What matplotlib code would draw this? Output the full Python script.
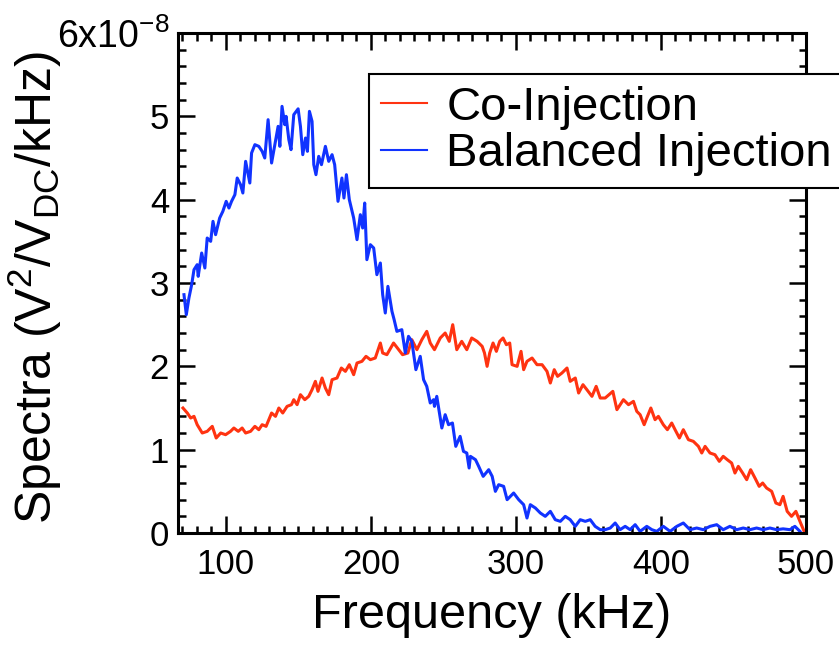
import numpy as np
import matplotlib.pyplot as plt
from matplotlib.ticker import MultipleLocator

# fonts: helvetica-like text, regular mathtext for sub/superscripts
plt.rcParams["font.family"] = ["Liberation Sans", "DejaVu Sans"]
plt.rcParams["mathtext.fontset"] = "custom"
plt.rcParams["mathtext.rm"] = "Liberation Sans"
plt.rcParams["mathtext.default"] = "regular"

# spectra in units of 1e-8 V^2/V_DC/kHz
co_freq = [70.4, 73.4, 75.7, 78.0, 80.2, 83.7, 87.1, 90.6, 93.3, 96.4,
           99.8, 103.2, 105.5, 108.5, 111.2, 113.6, 117.0, 120.0, 122.7, 125.0,
           127.7, 131.5, 134.2, 136.5, 139.2, 142.2, 145.2, 146.8, 149.1, 151.4,
           154.4, 157.1, 159.4, 161.7, 163.5, 166.3, 168.6, 170.9, 173.2, 176.6,
           179.6, 182.4, 185.1, 188.1, 190.4, 193.8, 196.6, 199.6, 203.0, 206.5,
           208.1, 211.0, 215.6, 219.1, 221.8, 225.5, 228.2, 231.7, 235.1, 238.5,
           240.9, 243.8, 247.8, 251.2, 254.0, 256.4, 259.2, 262.6, 266.1, 269.5,
           273.2, 276.7, 278.3, 280.1, 281.9, 284.2, 286.5, 288.8, 291.1, 293.4,
           295.7, 297.3, 300.8, 303.5, 305.3, 307.6, 311.1, 314.5, 318.0, 321.4,
           323.7, 326.4, 328.7, 331.7, 335.2, 337.4, 340.9, 343.2, 346.2, 348.9,
           352.4, 355.3, 358.1, 361.5, 366.8, 369.6, 374.1, 377.6, 381.0, 383.3,
           385.6, 388.4, 390.2, 393.0, 395.9, 398.2, 401.6, 404.4, 407.4, 409.7,
           412.7, 415.4, 418.9, 422.3, 425.8, 428.1, 430.4, 433.8, 437.2, 440.2,
           442.9, 445.7, 448.7, 451.0, 453.3, 456.3, 459.1, 461.8, 464.8, 467.7,
           470.1, 472.8, 476.3, 479.2, 482.0, 484.2, 487.0, 490.0, 493.0, 495.8,
           498.7]
co_spec = [1.50, 1.44, 1.38, 1.40, 1.30, 1.20, 1.22, 1.28, 1.14, 1.20,
           1.18, 1.22, 1.26, 1.22, 1.26, 1.20, 1.22, 1.28, 1.24, 1.30,
           1.28, 1.44, 1.40, 1.50, 1.44, 1.52, 1.54, 1.60, 1.54, 1.66,
           1.60, 1.64, 1.72, 1.82, 1.70, 1.86, 1.74, 1.66, 1.84, 1.86,
           1.98, 1.94, 2.02, 1.90, 2.04, 2.06, 2.12, 2.08, 2.10, 2.28,
           2.16, 2.14, 2.28, 2.20, 2.14, 2.16, 2.32, 2.20, 2.32, 2.42,
           2.28, 2.20, 2.34, 2.40, 2.30, 2.50, 2.20, 2.30, 2.20, 2.34,
           2.30, 2.24, 2.16, 2.00, 2.16, 2.28, 2.18, 2.30, 2.34, 2.26,
           2.28, 2.02, 2.00, 2.18, 1.96, 2.06, 2.10, 2.02, 2.02, 1.94,
           1.80, 1.96, 1.88, 1.92, 1.98, 1.82, 1.86, 1.68, 1.78, 1.72,
           1.64, 1.76, 1.62, 1.62, 1.70, 1.48, 1.60, 1.54, 1.58, 1.46,
           1.42, 1.30, 1.38, 1.50, 1.36, 1.40, 1.30, 1.24, 1.32, 1.24,
           1.14, 1.24, 1.12, 1.10, 1.04, 0.96, 1.04, 0.96, 0.94, 0.86,
           0.92, 0.88, 0.84, 0.72, 0.80, 0.72, 0.64, 0.76, 0.66, 0.56,
           0.60, 0.54, 0.50, 0.36, 0.34, 0.44, 0.26, 0.20, 0.26, 0.14,
           0.02]

bal_freq = [71.1, 72.7, 74.5, 76.4, 78.0, 80.2, 80.9, 83.3, 85.5, 87.1,
            89.5, 91.1, 92.9, 95.7, 97.9, 100.2, 102.1, 103.9, 106.2, 107.8,
            110.1, 111.7, 113.6, 116.5, 117.7, 120.0, 122.7, 125.0, 126.8, 129.1,
            131.5, 134.2, 136.0, 137.2, 138.7, 140.6, 141.5, 143.4, 144.9, 146.8,
            149.8, 151.4, 153.0, 154.9, 156.2, 157.6, 159.4, 160.6, 162.1, 164.0,
            165.9, 168.6, 170.9, 173.2, 175.0, 177.3, 180.0, 181.4, 183.1, 185.1,
            188.1, 190.4, 192.7, 194.3, 195.7, 197.2, 199.6, 201.9, 204.1, 206.5,
            208.1, 209.9, 211.7, 214.5, 216.0, 217.9, 221.3, 223.7, 225.9, 228.2,
            231.0, 234.0, 236.3, 238.5, 240.9, 243.2, 243.8, 245.4, 248.9, 251.2,
            253.5, 256.2, 258.5, 261.5, 263.8, 266.1, 267.7, 268.6, 272.1, 274.3,
            277.4, 281.2, 283.6, 285.8, 288.1, 291.5, 293.9, 296.1, 298.4, 301.9,
            305.3, 307.6, 309.9, 313.4, 316.8, 320.2, 323.7, 327.1, 330.6, 334.0,
            337.4, 340.9, 344.3, 347.8, 351.2, 354.6, 358.1, 361.5, 365.0, 368.4,
            371.8, 375.3, 378.7, 382.2, 385.6, 390.2, 393.7, 397.1, 401.6, 406.3,
            410.9, 415.4, 420.0, 424.6, 429.2, 433.8, 438.4, 442.9, 447.5, 452.2,
            456.7, 461.3, 465.9, 470.5, 475.1, 479.7, 484.2, 488.9, 492.3, 495.8]
bal_spec = [2.86, 2.62, 2.82, 2.98, 3.16, 3.22, 3.08, 3.36, 3.18, 3.54,
            3.50, 3.74, 3.58, 3.78, 3.86, 3.98, 3.90, 3.98, 4.06, 4.26,
            4.18, 4.08, 4.46, 4.20, 4.56, 4.66, 4.64, 4.58, 4.50, 4.96,
            4.44, 4.70, 4.88, 4.64, 5.12, 4.90, 5.00, 4.72, 4.60, 5.02,
            5.09, 4.88, 4.54, 4.74, 4.58, 5.06, 4.94, 4.42, 4.30, 4.52,
            4.42, 4.64, 4.46, 4.54, 4.42, 3.98, 4.26, 4.02, 4.30, 4.00,
            3.78, 3.52, 3.82, 3.66, 3.96, 3.28, 3.46, 3.42, 3.10, 3.24,
            2.86, 2.64, 2.96, 2.66, 2.56, 2.42, 2.44, 2.16, 2.36, 2.30,
            1.96, 2.12, 1.84, 1.76, 1.56, 1.60, 1.52, 1.64, 1.26, 1.42,
            1.30, 1.32, 1.04, 1.16, 0.98, 0.96, 0.78, 0.92, 0.88, 0.80,
            0.68, 0.76, 0.68, 0.50, 0.58, 0.56, 0.40, 0.44, 0.48, 0.40,
            0.34, 0.18, 0.34, 0.30, 0.24, 0.20, 0.26, 0.16, 0.14, 0.20,
            0.16, 0.08, 0.16, 0.14, 0.16, 0.08, 0.04, 0.04, 0.06, 0.12,
            0.04, 0.08, 0.04, 0.10, 0.02, 0.08, 0.04, 0.02, 0.08, 0.02,
            0.08, 0.12, 0.04, 0.06, 0.04, 0.08, 0.10, 0.04, 0.08, 0.04,
            0.06, 0.04, 0.06, 0.04, 0.06, 0.04, 0.05, 0.04, 0.08, 0.02]

SCALE = 1e-8
y_ticks = [0, 1, 2, 3, 4, 5, 6]
y_tick_labels = ["0", "1", "2", "3", "4", "5", "6x10$^{-8}$"]
x_ticks = [100, 200, 300, 400, 500]

RED = "#ff3311"
BLUE = "#1133ff"

fig = plt.figure(figsize=(8.39, 6.46), dpi=100)
ax = fig.add_axes([0.2122, 0.1749, 0.7485, 0.774])

ax.plot(co_freq, np.array(co_spec) * SCALE, color=RED, lw=2.2, label="Co-Injection")
ax.plot(bal_freq, np.array(bal_spec) * SCALE, color=BLUE, lw=2.2, label="Balanced Injection")

ax.set_xlim(67, 500)
ax.set_ylim(0, 6 * SCALE)
ax.set_xticks(x_ticks)
ax.set_yticks(np.array(y_ticks) * SCALE, y_tick_labels)
ax.xaxis.set_minor_locator(MultipleLocator(10))
ax.yaxis.set_minor_locator(MultipleLocator(0.2 * SCALE))

# inward ticks on all four sides
ax.tick_params(which="both", direction="in", top=True, right=True, width=1.8)
ax.tick_params(which="major", length=12)
ax.tick_params(which="minor", length=5.4)
ax.tick_params(axis="x", which="major", labelsize=25, pad=11)
ax.tick_params(axis="y", which="major", labelsize=25, pad=6.5)
for sp in ax.spines.values():
    sp.set_linewidth(2.2)

# the top label carries the exponent, a bit larger
ax.get_yticklabels()[-1].set_fontsize(27)

ax.set_xlabel("Frequency (kHz)", fontsize=35)
ax.set_ylabel("Spectra (V$^2$/V$_{DC}$/kHz)", fontsize=36)
ax.xaxis.set_label_coords(0.5, -0.12)
ax.yaxis.set_label_coords(-0.182, 0.49)

leg = ax.legend(loc="upper left", bbox_to_anchor=(0.304, 0.918), borderaxespad=0,
                fontsize=34, frameon=True, fancybox=False, framealpha=1,
                handlelength=0.97, handletextpad=0.42, borderpad=0.25,
                labelspacing=0.05)
leg.get_frame().set_edgecolor("black")
leg.get_frame().set_linewidth(1.5)
for line in leg.get_lines():
    line.set_linewidth(1.5)

fig.savefig("out.png", dpi=100)
